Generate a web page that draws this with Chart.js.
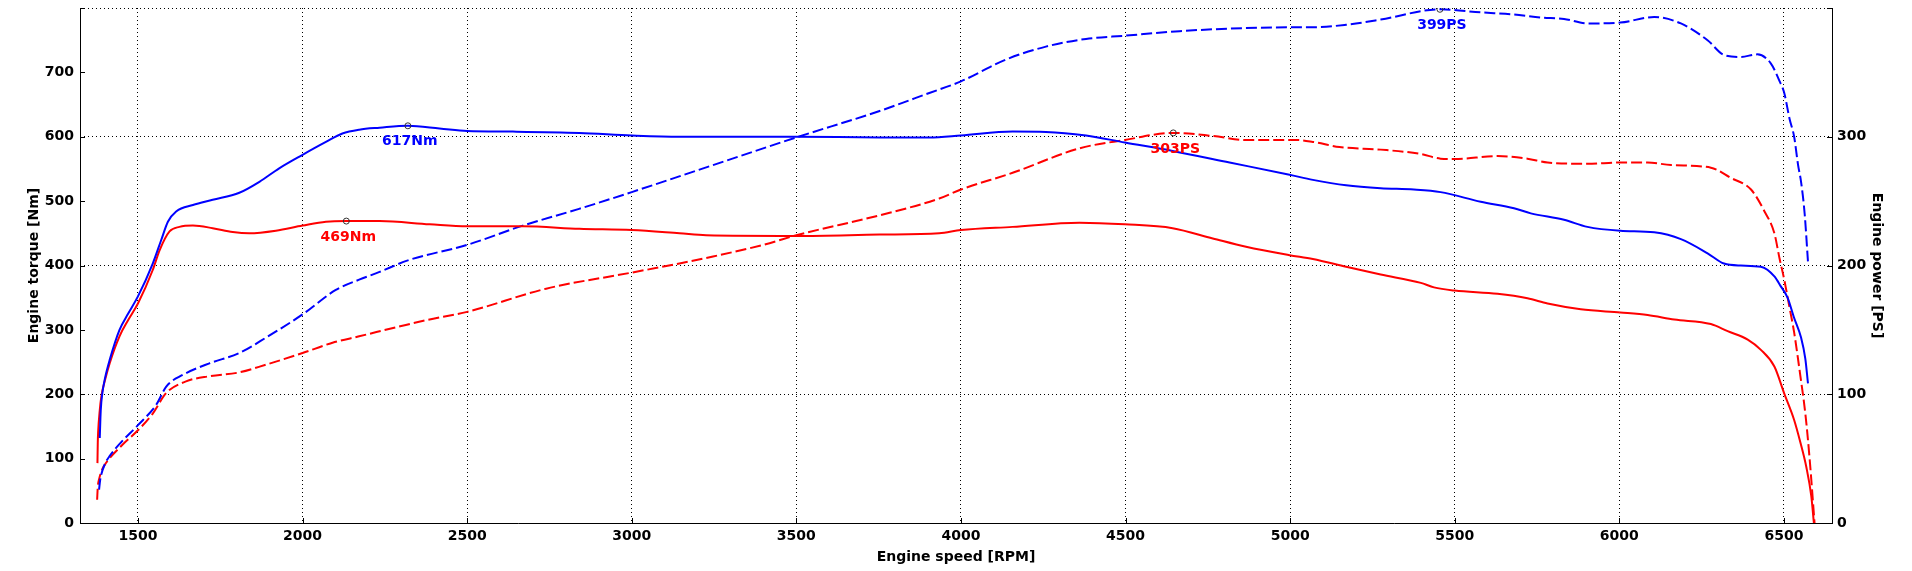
<!DOCTYPE html>
<html><head><meta charset="utf-8">
<script src="https://cdn.jsdelivr.net/npm/chart.js@4.4.1/dist/chart.umd.min.js"></script>
<style>html,body{margin:0;padding:0;background:#fff}#wrap{width:1912px;height:571px;position:relative}</style>
</head><body><div id="wrap"><canvas id="c"></canvas></div>
<script>
// ---- axis ticks ----
const rpmTicks = [1500,2000,2500,3000,3500,4000,4500,5000,5500,6000,6500];
const torqueTicks = [0,100,200,300,400,500,600,700,800];
const powerTicks = [0,100,200,300,400];

// ---- tuned torque (blue solid) ----
const tunedTorqueRpm = [1384,1387,1392,1400,1414,1444,1470,1500,1545,1571,1591,1616,1667,1727,1808,1869,1929,2000,2071,2121,2172,2234,2320,2416,2500,2639,2841,3000,3145,3500,3753,3904,4000,4157,4258,4380,4498,4643,4816,4998,5069,5170,5275,5376,5457,5579,5680,5731,5832,5903,6003,6106,6187,6268,6318,6369,6430,6471,6490,6511,6530,6552,6565,6573];
const tunedTorqueNm  = [132,175,202,225,253,300,325,352,403,440,468,484,494,502,513,530,551,572,592,605,611,614,617,613,609,608,606,602,600,600,599,599,602,608,607.5,602,591,578,560,541,533,524.5,520,518,514,499,489,481,471,460,454,451.5,441,419,403,400,398,383,368,350,320,288,255,217];

// ---- stock torque (red solid) ----
const stockTorqueRpm = [1377,1378,1379,1384,1389,1400,1414,1444,1470,1500,1545,1566,1596,1626,1667,1727,1788,1838,1919,2000,2071,2133,2234,2386,2500,2669,2841,3000,3145,3226,3500,3753,3934,4000,4157,4360,4498,4643,4765,4866,4998,5069,5170,5275,5397,5437,5500,5630,5721,5782,5883,6003,6086,6167,6278,6329,6390,6430,6471,6501,6531,6550,6568,6583,6591];
const stockTorqueNm  = [93,125,140,175,197,222,248,290,315,341,393,424,453,460,462,458,452,450,454,462,468,469,469,464,461,461,457,455,450,447,446,448,450,455,460,466.5,464,458,442,429,416,410,398,386,373,366,361,356,349,341,332,327,323,316,309,298,285,269,243,201,160,125,87,42,0];

// ---- tuned power (blue dashed) ----
const tunedPowerRpm = [1382,1385,1389,1400,1414,1450,1500,1556,1586,1636,1717,1808,1889,2000,2101,2172,2234,2320,2500,2669,2840,3000,3247,3500,3753,3904,4000,4137,4258,4380,4498,4664,4816,4998,5069,5170,5275,5455,5579,5680,5761,5832,5903,6003,6106,6187,6268,6318,6369,6419,6460,6487,6501,6517,6531,6543,6552,6563,6573];
const tunedPowerPS  = [26,33,38,46,52,63,76,92,106,115,124,132,144,162,181,189,195,204,216,231,244,257,278,299.5,320,334,343,360,370,376,378.5,382,384,385,385,387,391,399,396.6,395,392.6,391.5,388,388.7,393,388,375,363.5,362,364,357,343,334,314,300,278,265,240,203];

// ---- stock power (red dashed) ----
const stockPowerRpm = [1376,1378,1382,1392,1404,1450,1500,1545,1586,1646,1717,1808,1889,2000,2091,2172,2300,2375,2500,2740,3000,3145,3247,3399,3500,3753,3934,4000,4157,4360,4498,4645,4765,4866,5018,5069,5150,5275,5397,5457,5500,5630,5721,5782,5903,6003,6086,6157,6278,6339,6400,6441,6471,6487,6501,6515,6531,6550,6565,6578,6593];
const stockPowerPS  = [18,28,34,42,47,60,72,85,101,110,114,117,123,132,140,145,153,157.5,164,182,194.5,201.6,207,216,223.5,239,252,259,272,291,297.5,303,300.6,297.5,297.5,296,292,290,286.6,283,282.7,285,283,280,279,280,280,278,276,268,259,242,225,205,189,170,148,114,85,50,0];

// ---- peak annotations ----
const torquePeakRpm = [2320, 2133];
const torquePeakNm  = [617, 469];
const torquePeakText = ['617Nm', '469Nm'];
const powerPeakRpm = [5455, 4645];
const powerPeakPS  = [399, 303];
const powerPeakText = ['399PS', '303PS'];

const BLUE = '#0000ff', RED = '#ff0000';
const FONT = {family: 'DejaVu Sans', size: 14, weight: 'bold'};
Chart.defaults.font.family = 'DejaVu Sans';

const pts = (xs, ys) => xs.map((x, i) => ({x, y: ys[i]}));

const lineDs = (label, xs, ys, color, axis, dashed) => ({
  type: 'line', label, data: pts(xs, ys), yAxisID: axis,
  borderColor: color, borderWidth: 2, borderDash: dashed ? [11, 4] : [],
  pointRadius: 0, fill: false, cubicInterpolationMode: 'monotone'
});

const markerDs = (xs, ys, axis, texts, colors) => ({
  type: 'line', data: pts(xs, ys), yAxisID: axis, showLine: false,
  pointRadius: 3, pointBorderWidth: 1, pointBorderColor: '#333',
  pointBackgroundColor: 'rgba(0,0,0,0)', pointHoverRadius: 3,
  peakTexts: texts, peakColors: colors
});

const tickSet = arr => (s) => { s.ticks = arr.map(v => ({value: v})); };
const noVPad = (w) => (s) => { s.width = w; s.paddingTop = 0; s.paddingBottom = 0; };

const peakLabelPlugin = {
  id: 'peakLabels',
  afterDatasetsDraw(chart) {
    const ctx = chart.ctx;
    ctx.save();
    ctx.font = 'bold 14px "DejaVu Sans"';
    ctx.textAlign = 'center';
    ctx.textBaseline = 'middle';
    chart.data.datasets.forEach((ds, i) => {
      if (!ds.peakTexts) return;
      const meta = chart.getDatasetMeta(i);
      meta.data.forEach((el, j) => {
        ctx.fillStyle = ds.peakColors[j];
        ctx.fillText(ds.peakTexts[j], el.x + 2, el.y + 16);
      });
    });
    ctx.restore();
  }
};

const inwardTicksPlugin = {
  id: 'inwardTicks',
  afterDraw(chart) {
    const ctx = chart.ctx, a = chart.chartArea, L = 5;
    ctx.save();
    ctx.strokeStyle = '#000'; ctx.lineWidth = 1;
    ctx.beginPath();
    const xs = chart.scales.x;
    xs.ticks.forEach(t => { const p = Math.round(xs.getPixelForValue(t.value)) + 0.5; ctx.moveTo(p, a.bottom); ctx.lineTo(p, a.bottom - L); });
    const yl = chart.scales.y;
    yl.ticks.forEach(t => { const p = Math.round(yl.getPixelForValue(t.value)) + 0.5; ctx.moveTo(a.left, p); ctx.lineTo(a.left + L, p); });
    const yr = chart.scales.y1;
    yr.ticks.forEach(t => { const p = Math.round(yr.getPixelForValue(t.value)) + 0.5; ctx.moveTo(a.right, p); ctx.lineTo(a.right - L, p); });
    ctx.stroke();
    ctx.restore();
  }
};

new Chart(document.getElementById('c'), {
  type: 'line',
  data: {
    datasets: [
      markerDs(torquePeakRpm, torquePeakNm, 'y', torquePeakText, [BLUE, RED]),
      markerDs(powerPeakRpm, powerPeakPS, 'y1', powerPeakText, [BLUE, RED]),
      lineDs('Tuned torque', tunedTorqueRpm, tunedTorqueNm, BLUE, 'y', false),
      lineDs('Stock torque', stockTorqueRpm, stockTorqueNm, RED, 'y', false),
      lineDs('Tuned power', tunedPowerRpm, tunedPowerPS, BLUE, 'y1', true),
      lineDs('Stock power', stockPowerRpm, stockPowerPS, RED, 'y1', true)
    ]
  },
  options: {
    responsive: true, maintainAspectRatio: false, devicePixelRatio: 1, animation: false,
    layout: {padding: {top: 8, left: 0, right: 0, bottom: 0}},
    plugins: {legend: {display: false}, tooltip: {enabled: false}, title: {display: false}},
    events: [],
    scales: {
      x: {
        type: 'linear', position: 'bottom', min: 1324, max: 6646,
        afterBuildTicks: tickSet(rpmTicks),
        afterFit: s => { s.height = 48; s.paddingLeft = 0; s.paddingRight = 0; },
        grid: {color: '#000', lineWidth: 1, drawTicks: false},
        border: {display: true, color: '#000', width: 1, dash: [1, 3]},
        ticks: {font: FONT, color: '#000', padding: 5, maxRotation: 0, autoSkip: false,
                callback: v => String(v)},
        title: {display: true, text: 'Engine speed [RPM]', font: FONT, color: '#000', padding: {top: 0, bottom: 5.5}}
      },
      y: {
        type: 'linear', position: 'left', min: 0, max: 800,
        afterBuildTicks: tickSet(torqueTicks),
        afterFit: noVPad(80),
        grid: {display: false, drawTicks: false},
        border: {display: true, color: '#000', width: 1},
        ticks: {font: FONT, color: '#000', padding: 6, callback: v => v === 800 ? '' : String(v)},
        title: {display: true, text: 'Engine torque [Nm]', font: FONT, color: '#000', padding: {top: 26, bottom: 0}}
      },
      y1: {
        type: 'linear', position: 'right', min: 0, max: 400,
        afterBuildTicks: tickSet(powerTicks),
        afterFit: noVPad(80),
        grid: {color: '#000', lineWidth: 1, drawTicks: false},
        border: {display: true, color: '#000', width: 1, dash: [1, 3]},
        ticks: {font: FONT, color: '#000', padding: 5, callback: v => v === 400 ? '' : String(v)},
        title: {display: true, text: 'Engine power [PS]', font: FONT, color: '#000', padding: {top: 27, bottom: 0}}
      }
    }
  },
  plugins: [peakLabelPlugin, inwardTicksPlugin]
});
</script>
</body></html>
